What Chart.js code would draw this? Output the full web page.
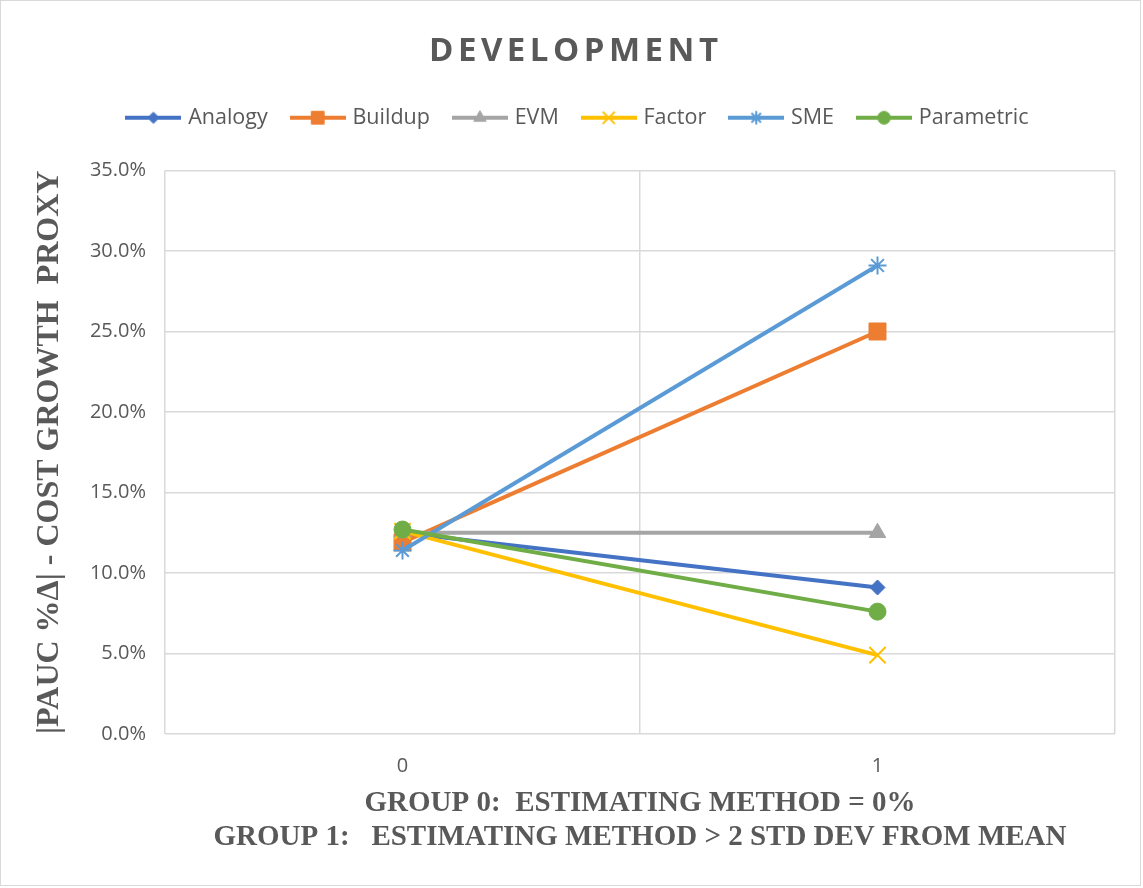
<!DOCTYPE html>
<html><head><meta charset="utf-8">
<script src="https://cdn.jsdelivr.net/npm/chart.js@4.4.0/dist/chart.umd.min.js"></script>
<style>html,body{margin:0;padding:0;background:#fff;} #wrap{width:1143px;height:888px;position:relative;}</style>
</head><body><div id="wrap"><canvas id="c" width="1143" height="888"></canvas></div>
<script>
const categories = ['0', '1'];
const seriesNames = ['Analogy', 'Buildup', 'EVM', 'Factor', 'SME', 'Parametric'];
const analogyValues = [12.5, 9.1];
const buildupValues = [11.9, 25.0];
const evmValues = [12.5, 12.5];
const factorValues = [12.6, 4.9];
const smeValues = [11.4, 29.1];
const parametricValues = [12.7, 7.6];
const yTickValues = [0, 5, 10, 15, 20, 25, 30, 35];
const chartTitle = 'DEVELOPMENT';
const yAxisTitle = '|PAUC %Δ| - COST GROWTH  PROXY';
const xAxisTitle = ['GROUP 0:  ESTIMATING METHOD = 0%', 'GROUP 1:   ESTIMATING METHOD > 2 STD DEV FROM MEAN'];

const seriesValues = [analogyValues, buildupValues, evmValues, factorValues, smeValues, parametricValues];
const styles = [
  {color: '#4472C4', point: 'rectRot', r: 7.5, bw: 1},
  {color: '#ED7D31', point: 'rect', r: 12, bw: 1},
  {color: '#A5A5A5', point: 'triangle', r: 9.5, bw: 1},
  {color: '#FFC000', point: 'crossRot', r: 11.5, bw: 2},
  {color: '#5B9BD5', point: 'star', r: 9, bw: 2},
  {color: '#70AD47', point: 'circle', r: 8.5, bw: 1}
];
const TEXT = '#595959';
const GRID = '#d9d9d9';

function legendImage(st) {
  const c = document.createElement('canvas');
  c.width = 56; c.height = 20;
  const g = c.getContext('2d');
  g.strokeStyle = st.color; g.lineWidth = 4;
  g.beginPath(); g.moveTo(0, 10); g.lineTo(56, 10); g.stroke();
  g.fillStyle = st.color; g.strokeStyle = st.color; g.lineWidth = st.bw;
  Chart.helpers.drawPoint(g, {pointStyle: st.point, radius: st.r * 0.75, rotation: 0, borderWidth: st.bw}, 28, 10);
  return c;
}
const legendImgs = styles.map(legendImage);

const datasets = seriesNames.map((name, i) => ({
  label: name,
  data: seriesValues[i],
  borderColor: styles[i].color,
  backgroundColor: styles[i].color,
  borderWidth: 4,
  pointStyle: styles[i].point,
  pointRadius: styles[i].r,
  pointHoverRadius: styles[i].r,
  pointBorderWidth: styles[i].bw,
  pointBackgroundColor: styles[i].color,
  pointBorderColor: styles[i].color,
  tension: 0,
  order: seriesNames.length - 1 - i
}));

const framePlugin = {
  id: 'frame',
  beforeDraw(chart) {
    const ctx = chart.ctx;
    ctx.save(); ctx.fillStyle = '#fff'; ctx.fillRect(0, 0, chart.width, chart.height); ctx.restore();
  },
  afterDraw(chart) {
    const ctx = chart.ctx;
    ctx.save();
    ctx.strokeStyle = '#d9d9d9'; ctx.lineWidth = 1;
    ctx.strokeRect(0.5, 0.5, 1140, 885);
    ctx.font = 'bold 33px "Open Sans"';
    ctx.fillStyle = TEXT; ctx.textAlign = 'left'; ctx.textBaseline = 'middle';
    ctx.letterSpacing = '4.5px';
    const w = ctx.measureText(chartTitle).width - 4.5;
    ctx.fillText(chartTitle, 573.5 - w / 2, 52);
    ctx.restore();
  }
};

new Chart(document.getElementById('c'), {
  type: 'line',
  data: {labels: categories, datasets},
  plugins: [framePlugin],
  options: {
    responsive: false,
    animation: false,
    devicePixelRatio: 1,
    layout: {padding: {top: 81, left: 15, right: 0, bottom: 0}},
    plugins: {
      tooltip: {enabled: false},
      title: {display: false},
      legend: {
        position: 'top',
        align: 'center',
        labels: {
          font: {family: 'Open Sans', size: 21.5},
          color: TEXT,
          usePointStyle: true,
          pointStyleWidth: 48,
          padding: 26,
          generateLabels(chart) {
            return chart.data.datasets.map((ds, i) => ({
              text: ds.label, pointStyle: legendImgs[i], fillStyle: ds.borderColor,
              strokeStyle: ds.borderColor, lineWidth: 0, hidden: false, datasetIndex: i, fontColor: TEXT
            }));
          }
        }
      }
    },
    scales: {
      x: {
        type: 'category',
        offset: true,
        grid: {offset: true, color: GRID, lineWidth: 1.5, drawTicks: false},
        border: {display: false},
        ticks: {color: TEXT, font: {family: 'Open Sans', size: 20}, padding: 20},
        title: {display: true, text: xAxisTitle, color: TEXT,
          font: {family: 'Liberation Serif', size: 29, weight: 'bold', lineHeight: 34 / 29},
          padding: {top: 0, bottom: 33}},
        afterFit(s) { s.height = 154; }
      },
      xTop: {
        type: 'category', position: 'top', display: true,
        grid: {display: false, drawTicks: false}, border: {display: false},
        ticks: {display: false}, title: {display: false},
        afterFit(s) { s.height = 32; }
      },
      y: {
        min: 0, max: 35,
        afterBuildTicks(s) { s.ticks = yTickValues.map(v => ({value: v})); },
        grid: {color: GRID, lineWidth: 1.5, drawTicks: false},
        border: {display: false},
        ticks: {color: TEXT, font: {family: 'Open Sans', size: 20}, padding: 19,
          callback: v => v.toFixed(1) + '%'},
        title: {display: true, text: yAxisTitle, color: TEXT,
          font: {family: 'Liberation Serif', size: 32, weight: 'bold', lineHeight: 1.2},
          padding: {top: 16, bottom: 0}},
        afterFit(s) { s.width = 150; }
      },
      yRight: {
        type: 'linear', position: 'right', display: true,
        grid: {display: false, drawTicks: false}, border: {display: false},
        ticks: {display: false}, title: {display: false},
        afterFit(s) { s.width = 28; }
      }
    }
  }
});
</script></body></html>
